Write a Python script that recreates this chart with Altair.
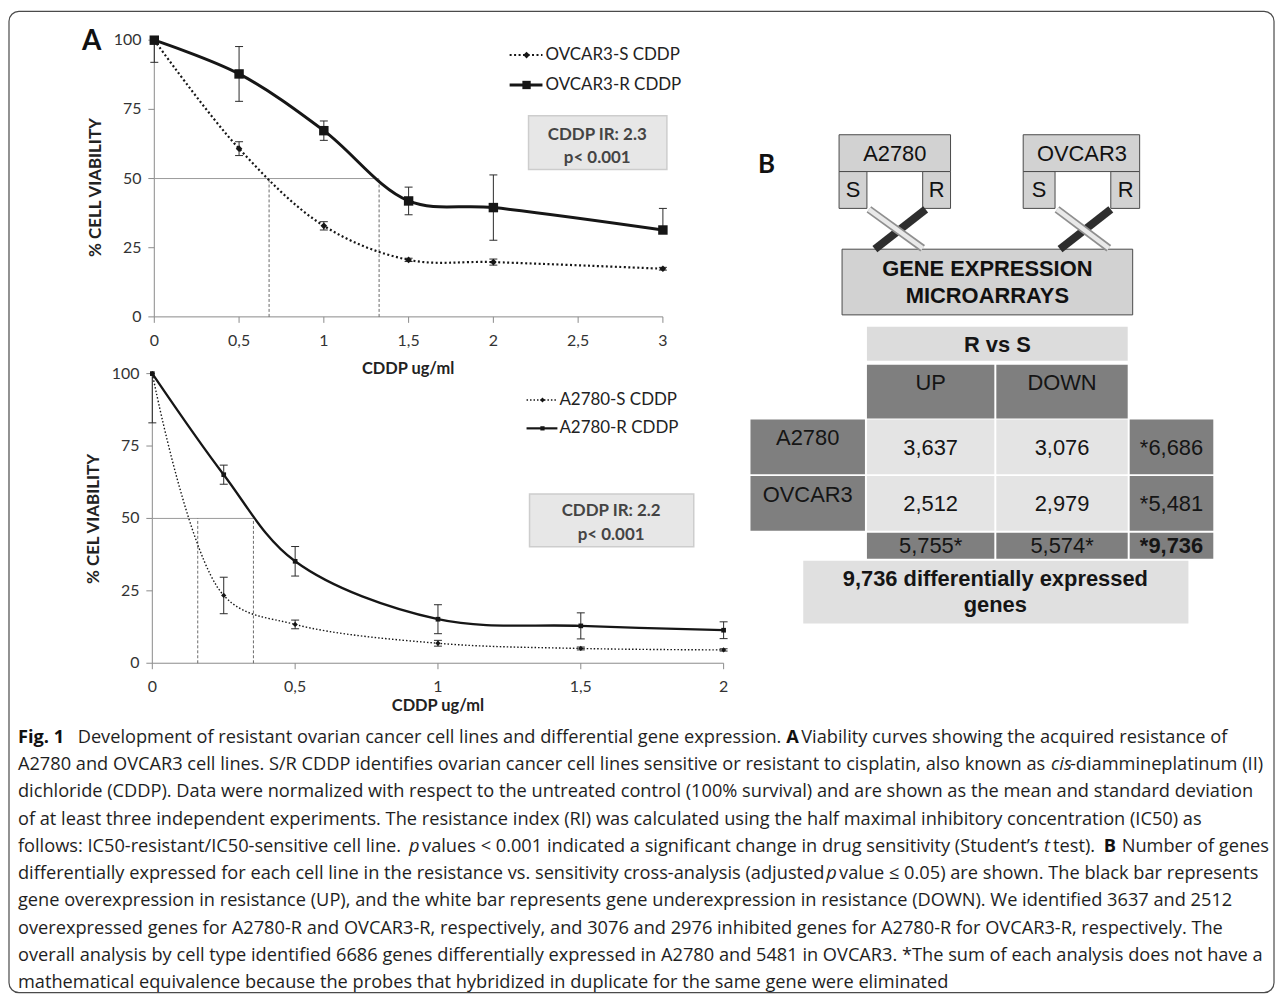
import altair as alt
import pandas as pd

W, H = 1274, 989          # canvas (page minus 8px margin)
P0 = 8                    # page margin

# ---------------- Panel A data ----------------
ov_dose = [0, 0.5, 1, 1.5, 2, 3]
ov_s_mean = [100, 60.8, 32.9, 20.6, 19.8, 17.4]
ov_s_err = [0, 2.5, 1.5, 0.6, 1.1, 0.5]
ov_r_mean = [100, 87.8, 67.3, 41.9, 39.5, 31.4]
ov_r_err_lo = [8.0, 9.9, 3.5, 5.0, 11.8, 0.0]
ov_r_err_hi = [0.0, 9.9, 3.5, 5.0, 11.8, 7.8]
ov_ic50 = [0.677, 1.326]
ov_xticks = [0, 0.5, 1, 1.5, 2, 2.5, 3]
ov_xlabels = ["0", "0,5", "1", "1,5", "2", "2,5", "3"]
ov_series = ["OVCAR3-S CDDP", "OVCAR3-R CDDP"]
ov_ir = ["CDDP IR: 2.3", "p< 0.001"]
ov_ytitle = "% CELL VIABILITY"

a_dose = [0, 0.25, 0.5, 1, 1.5, 2]
a_s_mean = [100, 23.4, 13.4, 6.9, 5.1, 4.6]
a_s_err = [0, 6.3, 1.5, 1.0, 0.5, 0.4]
a_r_mean = [100, 65.1, 35.2, 15.2, 12.9, 11.4]
a_r_err_lo = [17.0, 3.3, 5.1, 5.0, 4.5, 2.9]
a_r_err_hi = [0.0, 3.3, 5.1, 5.0, 4.5, 2.9]
a_ic50 = [0.159, 0.354]
a_xticks = [0, 0.5, 1, 1.5, 2]
a_xlabels = ["0", "0,5", "1", "1,5", "2"]
a_series = ["A2780-S CDDP", "A2780-R CDDP"]
a_ir = ["CDDP IR: 2.2", "p< 0.001"]
a_ytitle = "% CEL VIABILITY"

yticks = [0, 25, 50, 75, 100]
xtitle = "CDDP ug/ml"

# ---------------- Panel B data ----------------
cell_lines = ["A2780", "OVCAR3"]
arms = ["S", "R"]
chip_label = ["GENE EXPRESSION", "MICROARRAYS"]
table_title = "R vs S"
table_cols = ["UP", "DOWN"]
genes_up = [3637, 2512]
genes_down = [3076, 2979]
genes_line_total = [6686, 5481]
genes_col_total = [5755, 5574]
genes_grand = 9736
footer_lines = ["9,736 differentially expressed", "genes"]

# ---------------- Caption ----------------
caption = [
    [("b", "Fig. 1"), ("n", "Development of resistant ovarian cancer cell lines and differential gene expression."),
     ("b", "A"), ("n", "Viability curves showing the acquired resistance of")],
    [("n", "A2780 and OVCAR3 cell lines. S/R CDDP identifies ovarian cancer cell lines sensitive or resistant to cisplatin, also known as"),
     ("i", "cis"), ("n", "-diammineplatinum (II)")],
    [("n", "dichloride (CDDP). Data were normalized with respect to the untreated control (100% survival) and are shown as the mean and standard deviation")],
    [("n", "of at least three independent experiments. The resistance index (RI) was calculated using the half maximal inhibitory concentration (IC50) as")],
    [("n", "follows: IC50-resistant/IC50-sensitive cell line."), ("i", "p"),
     ("n", "values < 0.001 indicated a significant change in drug sensitivity (Student\u2019s"), ("i", "t"),
     ("n", "test)."), ("b", "B"), ("n", "Number of genes")],
    [("n", "differentially expressed for each cell line in the resistance vs. sensitivity cross-analysis (adjusted"),
     ("i", "p"), ("n", "value \u2264 0.05) are shown. The black bar represents")],
    [("n", "gene overexpression in resistance (UP), and the white bar represents gene underexpression in resistance (DOWN). We identified 3637 and 2512")],
    [("n", "overexpressed genes for A2780-R and OVCAR3-R, respectively, and 3076 and 2976 inhibited genes for A2780-R for OVCAR3-R, respectively. The")],
    [("n", "overall analysis by cell type identified 6686 genes differentially expressed in A2780 and 5481 in OVCAR3. *The sum of each analysis does not have a")],
    [("n", "mathematical equivalence because the probes that hybridized in duplicate for the same gene were eliminated")],
]
# layout: x start of each caption segment (page px)
caption_x = [[18, 78, 790, 805], [18, 1056, 1075], [18], [18],
             [18, 411, 424, 1049, 1058, 1109, 1127], [18, 830, 843], [18], [18], [18], [18]]
CAP_Y0, CAP_DY = 739, 27.4
CAP_FS = 18.3

FONT_A = "Lato"
FONT_B = "Liberation Sans"
FONT_C = "Open Sans"
INK = "#161616"

# ---------------- layout scale (page pixel coordinates) ----------------
PXS = alt.Scale(domain=[P0, P0 + W], range=[0, W], nice=False, zero=False)
PYS = alt.Scale(domain=[P0, P0 + H], range=[0, H], nice=False, zero=False)


def PX(f):
    return alt.X(f"{f}:Q", scale=PXS, axis=None)


def PY(f):
    return alt.Y(f"{f}:Q", scale=PYS, axis=None)


def texts(rows, **mk):
    df = pd.DataFrame(rows, columns=["px", "py", "t"])
    mk.setdefault("baseline", "middle")
    return alt.Chart(df).mark_text(**mk).encode(x=PX("px"), y=PY("py"), text="t:N")


def rects(rows, **mk):
    df = pd.DataFrame(rows, columns=["xa", "xb", "ya", "yb"])
    return alt.Chart(df).mark_rect(**mk).encode(x=PX("xa"), x2="xb", y=PY("ya"), y2="yb")


def segs(rows, **mk):
    df = pd.DataFrame(rows, columns=["xa", "ya", "xb", "yb"])
    return alt.Chart(df).mark_rule(**mk).encode(x=PX("xa"), y=PY("ya"), x2="xb", y2="yb")


def dots(rows, **mk):
    df = pd.DataFrame(rows, columns=["px", "py"])
    return alt.Chart(df).mark_point(**mk).encode(x=PX("px"), y=PY("py"))


# ---------------- viability panel ----------------
def panel(dose, s_mean, s_err, r_mean, r_lo, r_hi, ic50, xticks, xlabels, xmax,
          xr, yr, ms_s, ms_r, lw_s, lw_r, dash):
    xs = alt.Scale(domain=[0, xmax], range=[v - P0 for v in xr], nice=False, zero=False)
    ys = alt.Scale(domain=[0, 100], range=[v - P0 for v in yr], nice=False, zero=False)

    def X(f):
        return alt.X(f"{f}:Q", scale=xs, axis=None)

    def Y(f):
        return alt.Y(f"{f}:Q", scale=ys, axis=None)

    ppx = (xr[1] - xr[0]) / xmax
    ppy = (yr[0] - yr[1]) / 100.0
    tl = 6.0
    axc = "#8a8a8a"

    ax = pd.DataFrame({"a": [0, 0], "a2": [xmax, 0], "b": [0, 0], "b2": [0, 100]})
    axis_lines = alt.Chart(ax).mark_rule(color=axc, strokeWidth=1).encode(
        x=X("a"), x2="a2", y=Y("b"), y2="b2")

    xt = pd.DataFrame({"a": xticks, "b": [0] * len(xticks),
                       "b2": [-tl / ppy] * len(xticks), "t": xlabels})
    x_ticks = alt.Chart(xt).mark_rule(color=axc, strokeWidth=1).encode(x=X("a"), y=Y("b"), y2="b2")
    x_labels = alt.Chart(xt).mark_text(font=FONT_A, fontSize=16, color="#333", dy=24,
                                       baseline="middle").encode(x=X("a"), y=Y("b"), text="t:N")

    yt = pd.DataFrame({"b": yticks, "a": [0] * len(yticks),
                       "a2": [-tl / ppx] * len(yticks), "t": [str(v) for v in yticks]})
    y_ticks = alt.Chart(yt).mark_rule(color=axc, strokeWidth=1).encode(x=X("a"), x2="a2", y=Y("b"))
    y_labels = alt.Chart(yt).mark_text(font=FONT_A, fontSize=16, color="#333", dx=-13,
                                       align="right", baseline="middle").encode(
        x=X("a"), y=Y("b"), text="t:N")

    ich = pd.DataFrame({"a": [0], "a2": [ic50[1]], "b": [50]})
    ic_h = alt.Chart(ich).mark_rule(color="#9a9a9a", strokeWidth=1).encode(x=X("a"), x2="a2", y=Y("b"))
    icv = pd.DataFrame({"a": ic50, "b": [0, 0], "b2": [50, 50]})
    ic_v = alt.Chart(icv).mark_rule(color="#6a6a6a", strokeWidth=1, strokeDash=[3, 2]).encode(
        x=X("a"), y=Y("b"), y2="b2")

    eb_rows, cap_rows = [], []
    c = 4.0 / ppx
    for d, m, e in zip(dose, s_mean, s_err):
        if e > 0:
            eb_rows.append((d, m - e, m + e))
            cap_rows += [(d - c, d + c, m - e), (d - c, d + c, m + e)]
    for d, m, lo, hi in zip(dose, r_mean, r_lo, r_hi):
        if lo + hi > 0:
            eb_rows.append((d, m - lo, m + hi))
            if lo > 0:
                cap_rows.append((d - c, d + c, m - lo))
            if hi > 0:
                cap_rows.append((d - c, d + c, m + hi))
    ebd = pd.DataFrame(eb_rows, columns=["a", "b", "b2"])
    err = alt.Chart(ebd).mark_rule(color="#2a2a2a", strokeWidth=1).encode(x=X("a"), y=Y("b"), y2="b2")
    capd = pd.DataFrame(cap_rows, columns=["a", "a2", "b"])
    caps = alt.Chart(capd).mark_rule(color="#2a2a2a", strokeWidth=1).encode(x=X("a"), x2="a2", y=Y("b"))

    sd = pd.DataFrame({"a": dose, "b": s_mean})
    rd = pd.DataFrame({"a": dose, "b": r_mean})
    line_s = alt.Chart(sd).mark_line(interpolate="catmull-rom", color=INK, strokeWidth=lw_s,
                                     strokeDash=dash).encode(x=X("a"), y=Y("b"))
    line_r = alt.Chart(rd).mark_line(interpolate="catmull-rom", color=INK, strokeWidth=lw_r).encode(
        x=X("a"), y=Y("b"))
    pts_s = alt.Chart(sd).mark_point(shape="diamond", filled=True, opacity=1, color=INK,
                                     size=ms_s).encode(x=X("a"), y=Y("b"))
    pts_r = alt.Chart(rd).mark_point(shape="square", filled=True, opacity=1, color=INK,
                                     size=ms_r).encode(x=X("a"), y=Y("b"))
    return alt.layer(axis_lines, x_ticks, y_ticks, x_labels, y_labels, ic_h, ic_v,
                     err, caps, line_s, line_r, pts_s, pts_r)


top = panel(ov_dose, ov_s_mean, ov_s_err, ov_r_mean, ov_r_err_lo, ov_r_err_hi, ov_ic50,
            ov_xticks, ov_xlabels, 3, xr=[155, 666], yr=[316, 38],
            ms_s=45, ms_r=90, lw_s=2.2, lw_r=3.0, dash=[2, 2.5])
bottom = panel(a_dose, a_s_mean, a_s_err, a_r_mean, a_r_err_lo, a_r_err_hi, a_ic50,
               a_xticks, a_xlabels, 2, xr=[153, 727], yr=[664, 373],
               ms_s=28, ms_r=22, lw_s=1.4, lw_r=2.3, dash=[1.5, 2])

# ---------------- layout layer ----------------
L = []
# frame
L.append(rects([(9, 1280, 9, 995)], fillOpacity=0, stroke="#4a4a4a", strokeWidth=1.2, cornerRadius=10))
# panel letters
L.append(texts([(92, 40, "A")], font=FONT_A, fontSize=28, fontWeight="bold", color="#111"))
L.append(texts([(770, 163, "B")], font=FONT_A, fontSize=26, fontWeight="bold", color="#111"))
# axis titles
L.append(texts([(410, 368, xtitle), (440, 707, xtitle)], font=FONT_A, fontSize=16.5,
               fontWeight="bold", color="#222"))
L.append(texts([(96, 186, ov_ytitle), (94, 519, a_ytitle)], font=FONT_A, fontSize=17,
               fontWeight="bold", color="#222", angle=270))
# legends
L.append(segs([(512, 53, 545, 53)], color=INK, strokeWidth=2, strokeDash=[2, 2.5]))
L.append(segs([(512, 83, 545, 83)], color=INK, strokeWidth=3))
L.append(dots([(529, 53)], shape="diamond", filled=True, opacity=1, color=INK, size=45))
L.append(dots([(529, 83)], shape="square", filled=True, opacity=1, color=INK, size=70))
L.append(segs([(529, 399.5, 560, 399.5)], color=INK, strokeWidth=1.3, strokeDash=[1.5, 2]))
L.append(segs([(529, 428, 560, 428)], color=INK, strokeWidth=2.2))
L.append(dots([(545, 399.5)], shape="diamond", filled=True, opacity=1, color=INK, size=24))
L.append(dots([(545, 428)], shape="square", filled=True, opacity=1, color=INK, size=18))
L.append(texts([(548, 53, ov_series[0]), (548, 83, ov_series[1]),
                (562, 399.5, a_series[0]), (562, 428, a_series[1])],
               font=FONT_A, fontSize=17, color="#222", align="left"))
# IR boxes
L.append(rects([(531, 670, 114, 168), (532, 697, 494, 547)], fill="#e7e7e7", stroke="#cdcdcd",
               strokeWidth=1.5))
L.append(texts([(600, 133, ov_ir[0]), (600, 156, ov_ir[1]), (614, 511, a_ir[0]), (614, 535, a_ir[1])],
               font=FONT_A, fontSize=17, fontWeight="bold", color="#444"))

# ---- Panel B diagram ----
L.append(rects([(843, 955, 133, 170), (843, 871, 170, 207), (927, 955, 170, 207),
                (1028, 1145, 133, 170), (1028, 1060, 170, 207), (1116, 1145, 170, 207),
                (846, 1138, 248, 314)], fill="#d2d2d2", stroke="#4a4a4a", strokeWidth=1))
L.append(segs([(930, 208, 879, 248), (1116, 208, 1065, 248)], color="#2e2e2e", strokeWidth=8))
L.append(segs([(873, 208, 927, 247), (1062, 208, 1114, 247)], color="#8f8f8f", strokeWidth=8))
L.append(segs([(873, 208, 927, 247), (1062, 208, 1114, 247)], color="#e9e9e9", strokeWidth=4.5))
L.append(texts([(899, 152, cell_lines[0]), (857, 189, arms[0]), (941, 189, arms[1]),
                (1087, 152, cell_lines[1]), (1044, 189, arms[0]), (1131, 189, arms[1])],
               font=FONT_B, fontSize=22, color="#111"))
L.append(texts([(992, 268, chip_label[0]), (992, 295, chip_label[1])],
               font=FONT_B, fontSize=22, fontWeight="bold", color="#111"))

# ---- Panel B table ----
DARK, LIGHT, HEAD = "#7f7f7f", "#e4e4e4", "#dcdcdc"
col_x = [(871, 999), (1001, 1133)]
tot_x = (1135, 1219)
lab_x = (754, 869)
row_y = [(419, 474), (476, 531)]
tot_y = (533, 559)
cells = [(871, 1133, 326, 360, HEAD)]
for cx in col_x:
    cells.append((cx[0], cx[1], 364, 418, DARK))
for ry in row_y:
    cells.append((lab_x[0], lab_x[1], ry[0], ry[1], DARK))
    for cx in col_x:
        cells.append((cx[0], cx[1], ry[0], ry[1], LIGHT))
    cells.append((tot_x[0], tot_x[1], ry[0], ry[1], DARK))
for cx in col_x + [tot_x]:
    cells.append((cx[0], cx[1], tot_y[0], tot_y[1], DARK))
cells.append((807, 1194, 561, 624, "#e0e0e0"))
cdf = pd.DataFrame(cells, columns=["xa", "xb", "ya", "yb", "fill"])
L.append(alt.Chart(cdf).mark_rect().encode(x=PX("xa"), x2="xb", y=PY("ya"), y2="yb",
                                            color=alt.Color("fill:N", scale=None)))

cx_mid = [(a + b) / 2 for a, b in col_x]
tx_mid = (tot_x[0] + tot_x[1]) / 2
lx_mid = (lab_x[0] + lab_x[1]) / 2
norm_rows = [(cx_mid[0], 382, table_cols[0]), (cx_mid[1], 382, table_cols[1])]
for i, (ry, name) in enumerate(zip(row_y, cell_lines)):
    vy = (ry[0] + ry[1]) / 2 + 1
    norm_rows.append((lx_mid, ry[0] + 19, name))
    norm_rows.append((cx_mid[0], vy, f"{genes_up[i]:,}"))
    norm_rows.append((cx_mid[1], vy, f"{genes_down[i]:,}"))
    norm_rows.append((tx_mid, vy, f"*{genes_line_total[i]:,}"))
norm_rows.append((cx_mid[0], 546, f"{genes_col_total[0]:,}*"))
norm_rows.append((cx_mid[1], 546, f"{genes_col_total[1]:,}*"))
L.append(texts(norm_rows, font=FONT_B, fontSize=22, color="#151515"))
L.append(texts([(1002, 344, table_title), (tx_mid, 546, f"*{genes_grand:,}"),
                (1000, 579, footer_lines[0]), (1000, 606, footer_lines[1])],
               font=FONT_B, fontSize=22, fontWeight="bold", color="#151515"))

# ---- caption ----
cap_rows = {"n": [], "b": [], "i": []}
for li, (segments, xs_) in enumerate(zip(caption, caption_x)):
    for (style, txt), x0 in zip(segments, xs_):
        cap_rows[style].append((x0, CAP_Y0 + CAP_DY * li, txt))
L.append(texts(cap_rows["n"], font=FONT_C, fontSize=CAP_FS, color="#1e1e1e", align="left"))
L.append(texts(cap_rows["b"], font=FONT_C, fontSize=CAP_FS, fontWeight="bold", color="#111", align="left"))
L.append(texts(cap_rows["i"], font=FONT_C, fontSize=CAP_FS, fontStyle="italic", color="#1e1e1e", align="left"))

layout = alt.layer(*L)

chart = alt.layer(top, bottom, layout).resolve_scale(x="independent", y="independent").properties(
    width=W, height=H, autosize=alt.AutoSizeParams(type="none"), padding=0,
    background="white",
).configure_view(strokeOpacity=0)

chart.save("out.html", embed_options={"renderer": "svg", "actions": False})
